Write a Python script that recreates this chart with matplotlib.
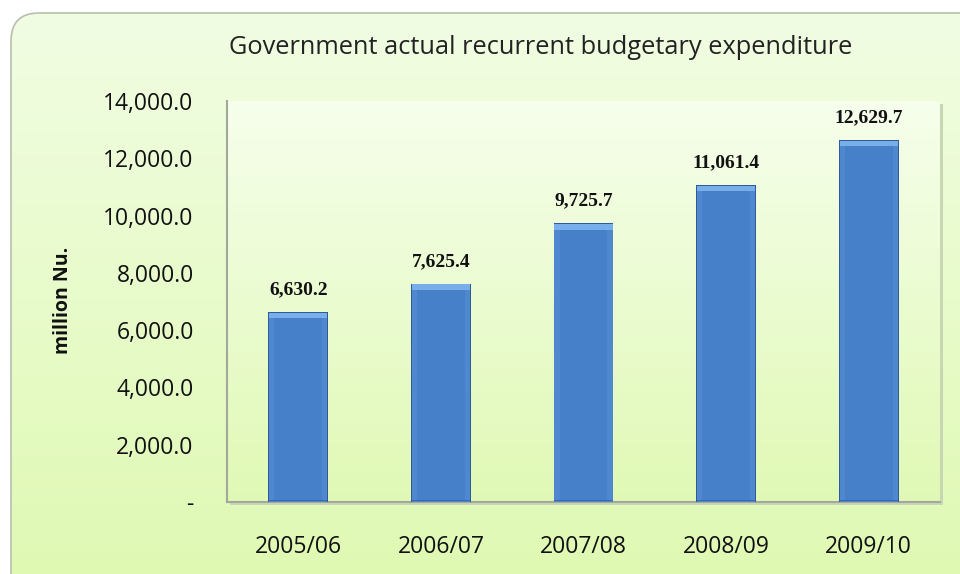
import numpy as np
import matplotlib
matplotlib.use("Agg")
import matplotlib.pyplot as plt
from matplotlib.patches import FancyBboxPatch

years = ["2005/06", "2006/07", "2007/08", "2008/09", "2009/10"]
spending = [6630.2, 7625.4, 9725.7, 11061.4, 12629.7]
yticks = [0, 2000, 4000, 6000, 8000, 10000, 12000, 14000]
ytick_labels = ["-", "2,000.0", "4,000.0", "6,000.0", "8,000.0",
                "10,000.0", "12,000.0", "14,000.0"]

W, H = 960, 574
fig = plt.figure(figsize=(W / 100, H / 100), dpi=100)
fig.patch.set_facecolor("white")

# rounded green panel with vertical gradient
bg = fig.add_axes([0, 0, 1, 1])
bg.set_xlim(0, W)
bg.set_ylim(H, 0)
bg.axis("off")
grad = np.linspace(0, 1, 256).reshape(-1, 1)
top_c = np.array([0.945, 0.992, 0.890])
bot_c = np.array([0.871, 0.976, 0.690])
img = top_c + (bot_c - top_c) * grad[..., None]
panel = FancyBboxPatch((11, 13), 980, 600, boxstyle="round,pad=0,rounding_size=28",
                       facecolor="none", edgecolor="#b8bfae", linewidth=1.2)
bg.add_patch(panel)
im = bg.imshow(img, extent=[11, 991, 613, 13], aspect="auto", zorder=0)
im.set_clip_path(panel)

# plot area shadow + gradient
L, T, R, B = 227, 101, 940, 502
bg.add_patch(plt.Rectangle((L + 3, T + 3), R - L, B - T, facecolor="#c9d6b4", edgecolor="none", zorder=1))
pimg = np.array([0.965, 0.998, 0.925]) + (np.array([0.878, 0.976, 0.710]) - np.array([0.965, 0.998, 0.925])) * grad[..., None]
bg.imshow(pimg, extent=[L, R, B, T], aspect="auto", zorder=2)

bg.text(541, 48, "Government actual recurrent budgetary expenditure", ha="center", va="center",
        fontsize=18.3, family="Open Sans", color="#222222")
bg.text(63, 300, "million Nu.", rotation=90, ha="center", va="center",
        fontsize=14, fontweight="bold", family="Open Sans", color="#111111")

ax = fig.add_axes([L / W, 1 - B / H, (R - L) / W, (B - T) / H])
ax.patch.set_alpha(0)
x = np.arange(len(years))
vals = np.array(spending)
w = 0.42
# bevelled bars: dark edge, side bevel, light top bevel, body
ax.bar(x, vals, width=w, color="#2f5c98", zorder=3)
ax.bar(x, vals - 25, width=w - 0.012, color="#4f88cf", zorder=4)
ax.bar(x, 190, bottom=vals - 215, width=w - 0.012, color="#78aee9", zorder=5)
ax.bar(x, vals - 215 - 60, bottom=60, width=w - 0.085, color="#4580c8", zorder=6)
ax.bar(x, 60, bottom=20, width=w - 0.012, color="#3a69a8", zorder=5)

for xi, v in zip(x, spending):
    ax.text(xi, v + 480, f"{v:,.1f}", ha="center", va="bottom", fontsize=14,
            fontweight="bold", family="Liberation Serif", color="#111111")

ax.set_xlim(-0.5, len(years) - 0.5)
ax.set_ylim(0, 14000)
ax.set_yticks(yticks)
ax.set_yticklabels(ytick_labels, fontsize=16.5, family="Open Sans", color="#111111")
ax.set_xticks(x)
ax.set_xticklabels(years, fontsize=16.5, family="Open Sans", color="#111111")
ax.tick_params(axis="y", length=0, pad=24)
ax.tick_params(axis="x", length=0, pad=24)
for s in ["top", "right"]:
    ax.spines[s].set_visible(False)
for s in ["left", "bottom"]:
    ax.spines[s].set_color("#a3a89c")
    ax.spines[s].set_linewidth(1.5)

fig.savefig("out.png", dpi=100)
